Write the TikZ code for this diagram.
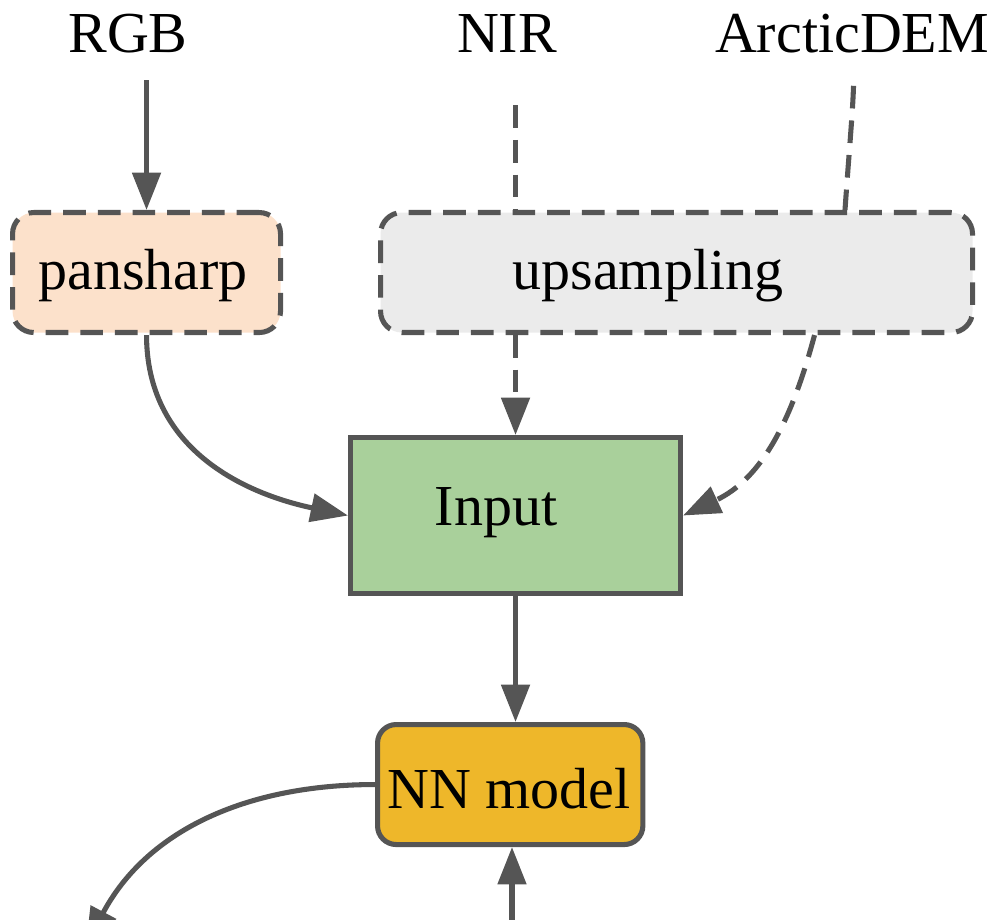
\documentclass[tikz,border=0pt]{standalone}
\usepackage{fontspec}
\setmainfont{Liberation Serif}
\usetikzlibrary{arrows.meta}
\definecolor{edge}{HTML}{555555}
\definecolor{peach}{HTML}{FCE1CB}
\definecolor{lightgray}{HTML}{EBEBEB}
\definecolor{leaf}{HTML}{A9D09B}
\definecolor{gold}{HTML}{EEB72A}
\begin{document}
\begin{tikzpicture}[x=0.75pt,y=-0.75pt,
  font=\fontsize{43.5pt}{50pt}\selectfont,
  lbl/.style={anchor=base,inner sep=0pt},
  box/.style={draw=edge,line width=3.8pt,inner sep=0pt},
  dashbox/.style={box,rounded corners=16pt,dash pattern=on 17pt off 9pt},
  conn/.style={draw=edge,line width=3.8pt},
  arr/.style={conn,-{Triangle[length=28pt,width=21pt]}},
  dashconn/.style={conn,dash pattern=on 17pt off 9pt}]
\useasboundingbox (0,0) rectangle (997,920);
\clip (0,0) rectangle (997,920);

% source labels
\node[lbl] (rgb) at (128,53) {RGB};
\node[lbl] (nir) at (507,53) {NIR};
\node[lbl] (dem) at (852,53) {ArcticDEM};

% processing boxes
\node[dashbox,fill=peach,anchor=north west,
      minimum width=201pt,minimum height=90pt] (pans) at (10,210) {};
\node[lbl] (panstext) at (143,290) {pansharp};
\node[dashbox,fill=lightgray,anchor=north west,
      minimum width=444pt,minimum height=90pt] (up) at (378,210) {};
\node[lbl] (uptext) at (648,290) {upsampling};

\node[box,fill=leaf,anchor=north west,
      minimum width=247.5pt,minimum height=117pt] (input) at (348,435) {};
\node[lbl] (inputtext) at (496,525) {Input};

\node[box,fill=gold,rounded corners=14pt,anchor=north west,
      minimum width=199pt,minimum height=90pt] (nn) at (375,722) {};
\node[lbl] (nntext) at (509,808) {NN model};

% free ends below the model
\coordinate (outend) at (86,945);
\coordinate (inend) at (512,935);

% inputs into the processing boxes
\draw[arr,shorten <=20pt] (rgb.south -| pans.north) -- (pans.north);
\draw[dashconn,shorten <=39pt] (nir.south -| input.north) -- (up.north -| input.north);
\draw[dashconn,shorten <=24pt] ([xshift=2pt]dem.south) to[out=-92,in=86] (up.north -| 845,0);

% processing boxes into the input stack
\draw[arr] (pans.south) to[out=-90,in=168,looseness=1.05] (input.west);
\draw[arr,dash pattern=on 17pt off 9pt] (up.south -| input.north) -- (input.north);
\draw[arr,dash pattern=on 17pt off 9pt] ([xshift=103.5pt]up.south) to[out=-105,in=25] (input.east);

% model
\draw[arr] (input.south) -- (input.south |- nn.north);
\draw[arr] (nn.west) to[out=180,in=62] (outend);
\draw[arr] (inend) -- (inend |- nn.south);
\end{tikzpicture}
\end{document}
